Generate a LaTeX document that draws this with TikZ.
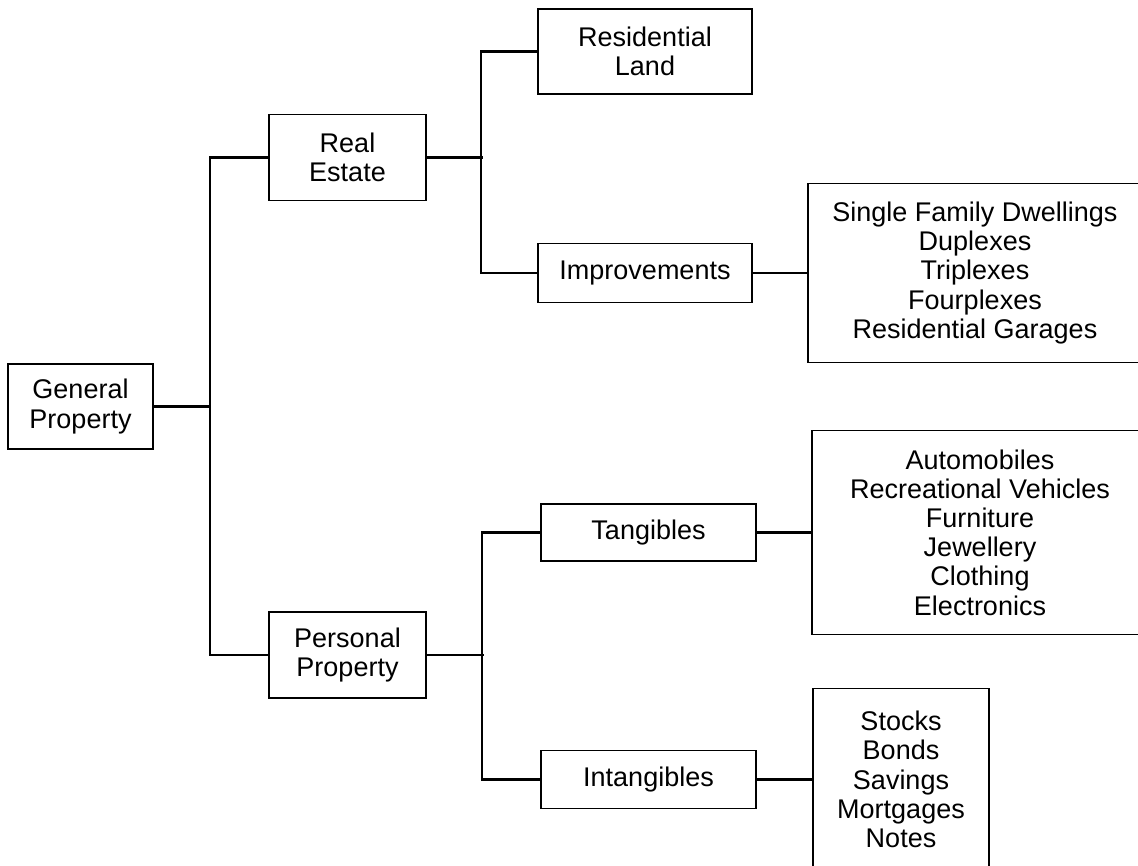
\documentclass[tikz,border=0pt]{standalone}
\usepackage{fontspec}
\setmainfont{Liberation Sans}

\begin{document}
\begin{tikzpicture}[x=1pt,y=-1pt,line join=miter,
    font=\fontsize{27}{29.2}\selectfont,
    box/.style={draw,line width=1.7pt,align=center,inner sep=0pt},
    link/.style={line width=2.3pt}]

  % ---- the page, cut at the right and at the bottom -------------------------
  \useasboundingbox (0,0) rectangle (1138,865);
  \clip (0,0) rectangle (1138,865);

  % ---- the boxes -------------------------------------------------------------
  \node[box,minimum width=145,minimum height=85] (gen)    at (80.5,406.5) {General\\Property};
  \node[box,minimum width=157,minimum height=86] (real)   at (347.5,157.5) {Real\\Estate};
  \node[box,minimum width=157,minimum height=86] (pers)   at (347.5,655)  {Personal\\Property};
  \node[box,minimum width=214,minimum height=85] (land)   at (645,51.5)   {Residential\\Land};
  \node[box,minimum width=214,minimum height=59] (impr)   at (645,273)    {Improvements};
  \node[box,minimum width=215,minimum height=57] (tang)   at (648.5,532.5) {Tangibles};
  \node[box,minimum width=215,minimum height=58] (intang) at (648.5,779.5) {Intangibles};

  \node[box,minimum width=334,minimum height=179] (dwell) at (975,273)
    {Single Family Dwellings\\Duplexes\\Triplexes\\Fourplexes\\Residential Garages};
  \node[box,minimum width=336,minimum height=204] (auto) at (980,532.5)
    {Automobiles\\Recreational Vehicles\\Furniture\\Jewellery\\Clothing\\Electronics};
  \node[box,minimum width=176,minimum height=182] (stocks) at (901,779.5)
    {Stocks\\Bonds\\Savings\\Mortgages\\Notes};

  % ---- the brackets ----------------------------------------------------------
  \draw[link] (gen.east) -- ++(57,0);
  \draw[link] (real.west) -- ++(-58,0) |- (pers.west);

  \draw[link] (real.east) -- ++(56,0);
  \draw[link] (land.west) -- ++(-56,0) |- (impr.west);

  \draw[link] (pers.east) -- ++(57,0);
  \draw[link] (tang.west) -- ++(-58,0) |- (intang.west);

  % ---- the lists -------------------------------------------------------------
  \draw[link] (impr.east) -- (dwell.west);
  \draw[link] (tang.east) -- (auto.west);
  \draw[link] (intang.east) -- (stocks.west);

\end{tikzpicture}
\end{document}
